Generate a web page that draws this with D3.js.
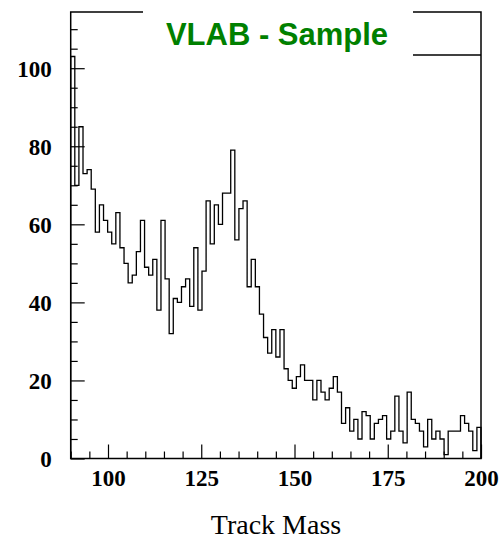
<!DOCTYPE html>
<html>
<head>
<meta charset="utf-8">
<title>VLAB - Sample</title>
<style>
  body { margin: 0; background: #fff; }
  svg { display: block; background: #fff; }
  .hist { fill: none; stroke: #000; stroke-width: 1.3px; }
  .axis text { font-family: "Liberation Serif", "Times New Roman", serif; font-weight: bold; font-size: 23px; fill: #000; }
  .axis line { stroke: #000; stroke-width: 1.2px; }
</style>
</head>
<body>
<script src="https://d3js.org/d3.v7.min.js"></script>
<script>
// histogram: 100 bins from 90 to 200
const xMin = 90, xMax = 200, nBins = 100;
const counts = [
  103, 70, 85, 73, 74, 69, 58, 65, 61, 58,
  55, 63, 54, 50, 45, 47, 53, 61, 49, 47,
  51, 38, 61, 46, 32, 41, 40, 44, 46, 39,
  54, 38, 48, 66, 55, 65, 60, 68, 68, 79,
  56, 64, 66, 44, 51, 44, 37, 31, 27, 33,
  26, 33, 23, 20, 18, 21, 24, 20, 20, 15,
  20, 17, 15, 18, 21, 17, 9, 13, 7, 10,
  5, 12, 11, 5, 9, 10, 11, 5, 7, 16,
  7, 4, 17, 10, 9, 7, 3, 10, 5, 7,
  5, 1, 7, 7, 7, 11, 9, 7, 2, 8
];
const xMajor = [100, 125, 150, 175, 200];
const yMajor = [0, 20, 40, 60, 80, 100];
const title = "VLAB - Sample";
const xTitle = "Track Mass";

const width = 499, height = 539;
const mLeft = 70.7, mRight = 481, mTop = 12, mBottom = 458.5;

const svg = d3.select("body").append("svg")
  .attr("width", width)
  .attr("height", height);

const x = d3.scaleLinear().domain([xMin, xMax]).range([mLeft, mRight]);
const y = d3.scaleLinear().domain([0, 114.4]).range([mBottom, mTop]);

const binW = (xMax - xMin) / nBins;

// step outline
const pts = [[xMin, 0]];
counts.forEach((c, i) => {
  pts.push([xMin + i * binW, c]);
  pts.push([xMin + (i + 1) * binW, c]);
});
pts.push([xMax, 0]);

svg.append("path")
  .attr("class", "hist")
  .attr("d", d3.line().x(d => x(d[0])).y(d => y(d[1]))(pts));

// minor ticks
const xMinor = d3.range(90, 201, 5).filter(v => !xMajor.includes(v));
const yMinor = d3.range(0, 114, 5).filter(v => !yMajor.includes(v));

svg.append("g").attr("class", "axis")
  .attr("transform", `translate(0,${mBottom})`)
  .call(d3.axisBottom(x).tickValues(xMinor).tickSize(-7).tickFormat(""))
  .call(g => g.select(".domain").remove());

svg.append("g").attr("class", "axis")
  .attr("transform", `translate(${mLeft},0)`)
  .call(d3.axisLeft(y).tickValues(yMinor).tickSize(-7).tickFormat(""))
  .call(g => g.select(".domain").remove());

// major ticks + labels
svg.append("g").attr("class", "axis")
  .attr("transform", `translate(0,${mBottom})`)
  .call(d3.axisBottom(x).tickValues(xMajor).tickSize(-14).tickPadding(0))
  .call(g => g.select(".domain").remove())
  .call(g => g.selectAll("text").attr("dy", null).attr("y", 27));

svg.append("g").attr("class", "axis")
  .attr("transform", `translate(${mLeft},0)`)
  .call(d3.axisLeft(y).tickValues(yMajor).tickSize(-14).tickPadding(19))
  .call(g => g.selectAll("text").attr("dy", "0.34em"))
  .call(g => g.select(".domain").remove());

// frame
svg.append("rect")
  .attr("x", mLeft).attr("y", mTop)
  .attr("width", mRight - mLeft).attr("height", mBottom - mTop)
  .attr("fill", "none").attr("stroke", "#000").attr("stroke-width", 1.5);

// title pave covers part of the top frame
svg.append("rect")
  .attr("x", 143).attr("y", 4)
  .attr("width", 413 - 143).attr("height", 16)
  .attr("fill", "#fff");

svg.append("line")
  .attr("x1", 413).attr("x2", mRight)
  .attr("y1", 55).attr("y2", 55)
  .attr("stroke", "#000").attr("stroke-width", 1.5);

svg.append("text")
  .attr("x", 277).attr("y", 45)
  .attr("text-anchor", "middle")
  .style("font-family", "'Liberation Sans', Arial, sans-serif")
  .style("font-weight", "bold")
  .style("font-size", "31px")
  .style("fill", "#008000")
  .text(title);

svg.append("text")
  .attr("x", 276).attr("y", 534)
  .attr("text-anchor", "middle")
  .style("font-family", "'Liberation Serif', 'Times New Roman', serif")
  .style("font-size", "28px")
  .style("fill", "#000")
  .text(xTitle);
</script>
</body>
</html>
